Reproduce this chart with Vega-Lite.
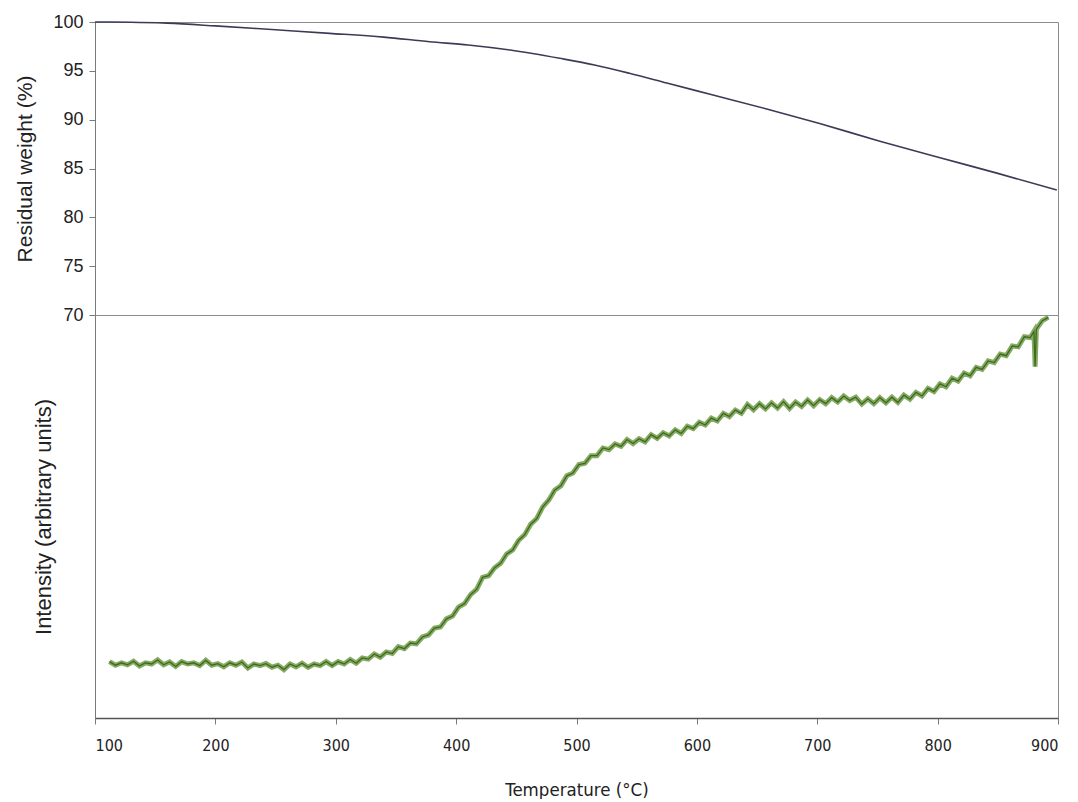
{
  "$schema": "https://vega.github.io/schema/vega-lite/v6.json",
  "background": "white",
  "padding": {"left": 14, "top": 12, "right": 16, "bottom": 0},
  "spacing": 0,
  "bounds": "flush",
  "resolve": {"scale": {"y": "independent"}},
  "config": {
    "font": "Liberation Sans",
    "view": {"stroke": "#8c8c8c", "strokeWidth": 1},
    "axis": {
      "domainColor": "#7a7a7a",
      "tickColor": "#7a7a7a",
      "labelColor": "#222222",
      "titleColor": "#222222",
      "titleFontWeight": "normal",
      "grid": false
    }
  },
  "datasets": {
    "weight": [
      {"T": 100, "w": 100.0}, {"T": 130, "w": 99.98}, {"T": 160, "w": 99.88},
      {"T": 200, "w": 99.6}, {"T": 250, "w": 99.2}, {"T": 295, "w": 98.84},
      {"T": 340, "w": 98.45}, {"T": 378, "w": 97.98}, {"T": 410, "w": 97.65},
      {"T": 445, "w": 97.13}, {"T": 486, "w": 96.28}, {"T": 515, "w": 95.6},
      {"T": 544, "w": 94.75}, {"T": 575, "w": 93.75}, {"T": 611, "w": 92.6},
      {"T": 658, "w": 91.1}, {"T": 702, "w": 89.6}, {"T": 752, "w": 87.8},
      {"T": 802, "w": 86.1}, {"T": 850, "w": 84.5}, {"T": 899, "w": 82.8}
    ],
    "intensity": [
      {"T": 112, "I": 14.0}, {"T": 117, "I": 13.1}, {"T": 122, "I": 13.7}, {"T": 127, "I": 13.2},
      {"T": 132, "I": 14.1}, {"T": 137, "I": 12.9}, {"T": 142, "I": 13.7}, {"T": 147, "I": 13.4},
      {"T": 152, "I": 14.4}, {"T": 157, "I": 13.2}, {"T": 162, "I": 13.9}, {"T": 167, "I": 12.8},
      {"T": 172, "I": 14.0}, {"T": 177, "I": 13.4}, {"T": 182, "I": 13.7}, {"T": 187, "I": 13.0},
      {"T": 192, "I": 14.3}, {"T": 197, "I": 13.1}, {"T": 202, "I": 13.5}, {"T": 207, "I": 12.7},
      {"T": 212, "I": 13.7}, {"T": 217, "I": 13.1}, {"T": 222, "I": 13.9}, {"T": 227, "I": 12.4},
      {"T": 232, "I": 13.4}, {"T": 237, "I": 13.0}, {"T": 242, "I": 13.5}, {"T": 247, "I": 12.6},
      {"T": 252, "I": 13.1}, {"T": 257, "I": 12.0}, {"T": 262, "I": 13.4}, {"T": 267, "I": 12.7},
      {"T": 272, "I": 13.6}, {"T": 277, "I": 12.6}, {"T": 282, "I": 13.4}, {"T": 287, "I": 13.0},
      {"T": 292, "I": 14.0}, {"T": 297, "I": 13.0}, {"T": 302, "I": 14.0}, {"T": 307, "I": 13.4},
      {"T": 312, "I": 14.5}, {"T": 317, "I": 13.6}, {"T": 322, "I": 14.9}, {"T": 327, "I": 14.6},
      {"T": 332, "I": 15.9}, {"T": 337, "I": 15.1}, {"T": 342, "I": 16.4}, {"T": 347, "I": 16.0},
      {"T": 352, "I": 17.7}, {"T": 357, "I": 17.2}, {"T": 362, "I": 18.6}, {"T": 367, "I": 18.4},
      {"T": 372, "I": 20.1}, {"T": 377, "I": 20.6}, {"T": 382, "I": 22.3}, {"T": 387, "I": 22.6},
      {"T": 392, "I": 24.6}, {"T": 397, "I": 25.3}, {"T": 402, "I": 27.5}, {"T": 407, "I": 28.4},
      {"T": 412, "I": 30.6}, {"T": 417, "I": 31.9}, {"T": 422, "I": 34.9}, {"T": 427, "I": 35.3},
      {"T": 432, "I": 37.3}, {"T": 437, "I": 38.4}, {"T": 442, "I": 40.7}, {"T": 447, "I": 41.7},
      {"T": 452, "I": 44.1}, {"T": 457, "I": 45.5}, {"T": 462, "I": 48.1}, {"T": 467, "I": 49.5},
      {"T": 472, "I": 52.4}, {"T": 477, "I": 54.1}, {"T": 482, "I": 56.6}, {"T": 487, "I": 57.6},
      {"T": 492, "I": 60.1}, {"T": 497, "I": 60.8}, {"T": 502, "I": 62.9}, {"T": 507, "I": 63.2},
      {"T": 512, "I": 65.1}, {"T": 517, "I": 65.1}, {"T": 522, "I": 67.0}, {"T": 527, "I": 66.6},
      {"T": 532, "I": 68.0}, {"T": 537, "I": 67.4}, {"T": 542, "I": 69.1}, {"T": 547, "I": 68.1},
      {"T": 552, "I": 69.3}, {"T": 557, "I": 68.5}, {"T": 562, "I": 70.3}, {"T": 567, "I": 69.4},
      {"T": 572, "I": 70.8}, {"T": 577, "I": 70.0}, {"T": 582, "I": 71.5}, {"T": 587, "I": 70.6},
      {"T": 592, "I": 72.4}, {"T": 597, "I": 71.8}, {"T": 602, "I": 73.4}, {"T": 607, "I": 72.7},
      {"T": 612, "I": 74.4}, {"T": 617, "I": 73.7}, {"T": 622, "I": 75.6}, {"T": 627, "I": 74.8},
      {"T": 632, "I": 76.4}, {"T": 637, "I": 75.6}, {"T": 642, "I": 77.8}, {"T": 647, "I": 76.5},
      {"T": 652, "I": 78.0}, {"T": 657, "I": 76.7}, {"T": 662, "I": 78.2}, {"T": 667, "I": 76.9},
      {"T": 672, "I": 78.5}, {"T": 677, "I": 76.8}, {"T": 682, "I": 78.4}, {"T": 687, "I": 77.3},
      {"T": 692, "I": 78.9}, {"T": 697, "I": 77.5}, {"T": 702, "I": 79.0}, {"T": 707, "I": 78.0},
      {"T": 712, "I": 79.5}, {"T": 717, "I": 78.4}, {"T": 722, "I": 79.9}, {"T": 727, "I": 78.8},
      {"T": 732, "I": 79.6}, {"T": 737, "I": 77.9}, {"T": 742, "I": 79.2}, {"T": 747, "I": 78.0},
      {"T": 752, "I": 79.5}, {"T": 757, "I": 78.2}, {"T": 762, "I": 79.6}, {"T": 767, "I": 78.3},
      {"T": 772, "I": 80.1}, {"T": 777, "I": 79.1}, {"T": 782, "I": 80.8}, {"T": 787, "I": 79.9},
      {"T": 792, "I": 81.8}, {"T": 797, "I": 81.0}, {"T": 802, "I": 82.9}, {"T": 807, "I": 82.2},
      {"T": 812, "I": 84.3}, {"T": 817, "I": 83.6}, {"T": 822, "I": 85.6}, {"T": 827, "I": 84.9},
      {"T": 832, "I": 87.0}, {"T": 837, "I": 86.5}, {"T": 842, "I": 88.6}, {"T": 847, "I": 88.2},
      {"T": 852, "I": 90.3}, {"T": 857, "I": 89.9}, {"T": 862, "I": 92.3}, {"T": 867, "I": 92.1},
      {"T": 872, "I": 94.6}, {"T": 877, "I": 94.4}, {"T": 880, "I": 95.9}, {"T": 881, "I": 87.2},
      {"T": 882, "I": 96.5}, {"T": 887, "I": 98.6}, {"T": 892, "I": 99.4}
    ]
  },
  "vconcat": [
    {
      "width": 963,
      "height": 293,
      "layer": [
        {
          "mark": {"type": "rule", "color": "#dcdcdc", "strokeWidth": 1},
          "encoding": {"y": {"datum": 95}}
        },
        {
          "data": {"name": "weight"},
          "mark": {"type": "line", "color": "#3a3c56", "strokeWidth": 1.6, "interpolate": "monotone"},
          "encoding": {
            "x": {"field": "T", "type": "quantitative", "scale": {"domain": [100, 900]}, "axis": null},
            "y": {
              "field": "w", "type": "quantitative",
              "scale": {"domain": [70, 100], "nice": false, "zero": false},
              "axis": {
                "title": "Residual weight (%)",
                "values": [70, 75, 80, 85, 90, 95, 100],
                "labelFontSize": 18, "titleFontSize": 21,
                "tickSize": 6, "labelPadding": 6, "titlePadding": 17
              }
            }
          }
        }
      ]
    },
    {
      "width": 963,
      "height": 403,
      "layer": [
        {
          "mark": {"type": "rule", "color": "#dcdcdc", "strokeWidth": 1},
          "encoding": {"y": {"datum": 80}}
        },
        {
          "data": {"name": "intensity"},
          "mark": {"type": "line", "color": "#5e8d30", "strokeWidth": 5, "opacity": 0.75},
          "encoding": {
            "x": {"field": "T", "type": "quantitative"},
            "y": {"field": "I", "type": "quantitative"}
          }
        },
        {
          "data": {"name": "intensity"},
          "mark": {"type": "line", "color": "#3c6a1c", "strokeWidth": 1.3},
          "encoding": {
            "x": {
              "field": "T", "type": "quantitative",
              "scale": {"domain": [100, 900]},
              "axis": {
                "title": "Temperature (°C)",
                "values": [100, 200, 300, 400, 500, 600, 700, 800, 900],
                "labelFont": "'DejaVu Sans Condensed', 'Liberation Sans'",
                "titleFont": "'DejaVu Sans Condensed', 'Liberation Sans'",
                "labelFontSize": 16, "titleFontSize": 18.5,
                "tickSize": 6, "labelPadding": 13, "titlePadding": 27,
                "domainColor": "#555555", "domainWidth": 1.5
              }
            },
            "y": {
              "field": "I", "type": "quantitative",
              "scale": {"domain": [0, 100], "nice": false},
              "axis": {
                "title": "Intensity (arbitrary units)",
                "labels": false, "ticks": false,
                "titleFontSize": 22, "titlePadding": 40
              }
            }
          }
        }
      ]
    }
  ]
}
